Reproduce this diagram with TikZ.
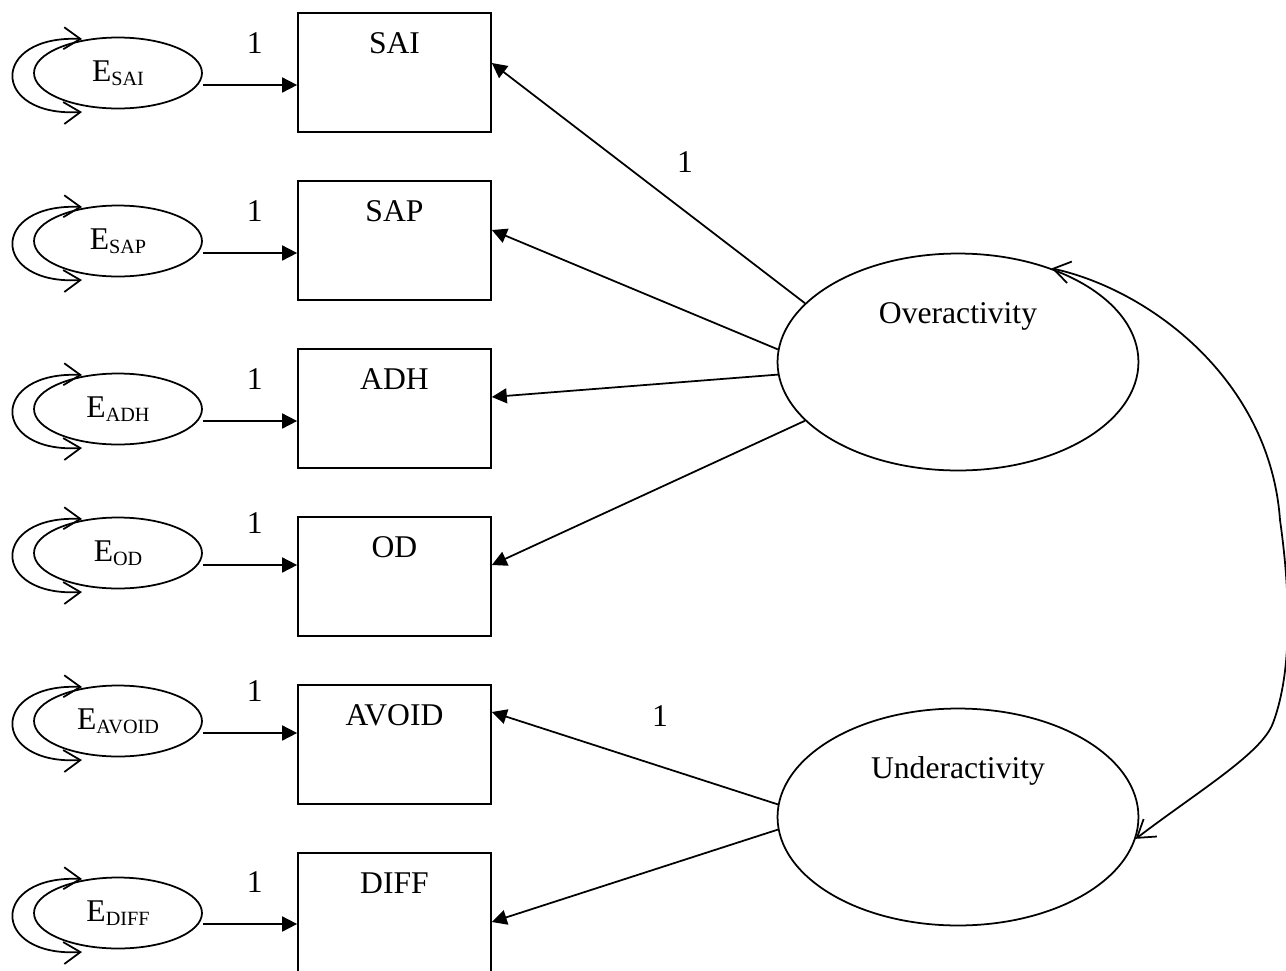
\documentclass[tikz,border=0pt]{standalone}
\usepackage{fontspec}
\setmainfont{Liberation Serif}
\usetikzlibrary{arrows.meta,calc,shapes.geometric}

% error term label: E with a smaller, lowered subscript
\newcommand{\Err}[1]{E\raisebox{-2.3pt}{\fontsize{11.5}{12}\selectfont #1}}

\begin{document}
\begin{tikzpicture}[x=0.02cm,y=-0.02cm,
  every node/.style={font=\fontsize{18}{21}\selectfont},
  line width=1pt,
  obs/.style={draw, rectangle, minimum width=3.86cm, minimum height=2.38cm, inner sep=0pt},
  err/.style={draw, ellipse, minimum width=3.36cm, minimum height=1.42cm, inner sep=0pt},
  lat/.style={draw, ellipse, minimum width=7.22cm, minimum height=4.34cm, inner sep=0pt},
  txt/.style={anchor=base, inner sep=0pt},
  load/.style={-{Triangle[length=8.5pt,width=8.5pt]}},
  cov/.style={{Straight Barb[length=9.5pt,width=12.5pt]}-{Straight Barb[length=9.5pt,width=12.5pt]}}
]
\useasboundingbox (0,0) rectangle (1286,971);

% indicators, their error terms and unit paths
\foreach \nm/\lbl/\bt/\ec/\dy in {sai/SAI/13/73/12, sap/SAP/181/241/12, adh/ADH/349/409/12,
                                  od/OD/517/553/12, avoid/AVOID/685/721/12, diff/DIFF/853/913/11}{
  \node[obs] (\nm) at (394.5,\bt+59.5) {};
  \node[txt] (\nm-t) at ($(\nm.north)+(0,41)$) {\lbl};
  \node[err] (e\nm) at (118,\ec) {\Err{\lbl}};
  \coordinate (s\nm) at ($(e\nm.east)+(0,\dy)$);
  \draw[load] (s\nm) -- (s\nm -| \nm.west);
  \node[txt] (w\nm) at ($(s\nm)+(52,-32)$) {1};
  \draw[cov] ($(e\nm.center)+(-36,-34)$) .. controls +(-92,-4) and +(-92,5) .. ($(e\nm.center)+(-36,39)$);
}

% latent factors
\node[lat] (ovr) at (958,362) {};
\node[lat] (unv) at (958,817) {};
\node[txt] (ovr-t) at ($(ovr.center)+(0,-39)$) {Overactivity};
\node[txt] (unv-t) at ($(unv.center)+(0,-39)$) {Underactivity};

% factor loadings
\draw[load] (ovr.159) -- ($(sai.east)+(0,-9.5)$);
\draw[load] (ovr.176) -- ($(sap.east)+(0,-10.5)$);
\draw[load] (ovr.184) -- ($(adh.east)+(0,-11.5)$);
\draw[load] (ovr.201) -- ($(od.east)+(0,-11.5)$);
\draw[load] (unv.176) -- ($(avoid.east)+(0,-32.5)$);
\draw[load] (unv.184) -- ($(diff.east)+(0,9.5)$);
\node[txt] (fix1) at (685,172) {1};
\node[txt] (fix2) at (660,726) {1};

% factor covariance
\draw[cov] (ovr.45) .. controls (1150,290) and (1270,380) .. (1280,520)
  .. controls (1290,590) and (1293,670) .. (1273,723)
  .. controls (1262,753) and (1200,790) .. (unv.-7);
\end{tikzpicture}
\end{document}
